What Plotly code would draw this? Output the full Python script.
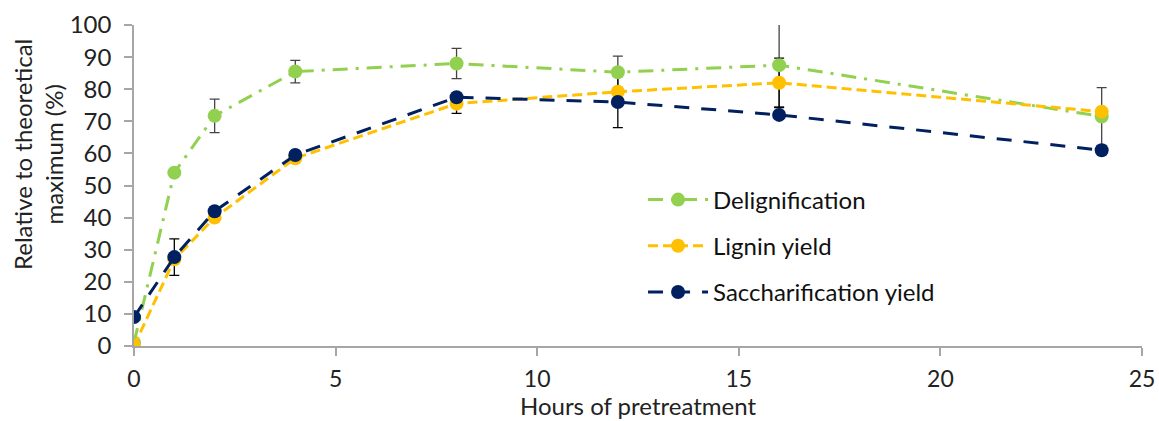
import plotly.graph_objects as go

hours = [0, 1, 2, 4, 8, 12, 16, 24]
delignification = [1, 54, 71.7, 85.5, 88, 85.3, 87.5, 71.5]
lignin_yield = [0, 27, 40, 58.5, 75.5, 79.2, 82, 73]
sacch_yield = [9, 27.7, 42, 59.5, 77.5, 76, 72, 61]

# error bars (only where shown in the reference)
delig_err_x = [2, 4, 8, 12, 16, 24]
delig_err_y = [71.7, 85.5, 88, 85.3, 87.5, 71.5]
delig_err = [5.2, 3.5, 4.7, 5, 13, 9]
lignin_err_x = [8, 16]
lignin_err_y = [75.5, 82]
lignin_err = [3, 7.7]
sacch_err_x = [1, 12]
sacch_err_y = [27.7, 76]
sacch_err = [5.7, 8]

GREEN = "#92d050"
YELLOW = "#ffc000"
NAVY = "#002060"
FONT = "Lato"
FS = 24

fig = go.Figure()

def err_trace(x, y, e, color="black"):
    fig.add_trace(go.Scatter(
        x=x, y=y, mode="markers", showlegend=False, hoverinfo="skip",
        marker=dict(size=1, opacity=0),
        error_y=dict(type="data", array=e, visible=True, color=color,
                     thickness=1.3, width=5),
    ))

err_trace(delig_err_x, delig_err_y, delig_err, "#444444")
err_trace(lignin_err_x, lignin_err_y, lignin_err)
err_trace(sacch_err_x, sacch_err_y, sacch_err)

fig.add_trace(go.Scatter(
    x=hours, y=delignification, name="Delignification", mode="lines+markers",
    legendgroup="a",
    line=dict(color=GREEN, width=3, dash="15px,8px,3px,8px"),
    marker=dict(color=GREEN, size=14),
))
fig.add_trace(go.Scatter(
    x=hours, y=lignin_yield, name="Lignin yield", mode="lines+markers",
    legendgroup="b",
    line=dict(color=YELLOW, width=3, dash="10px,5px"),
    marker=dict(color=YELLOW, size=14),
))
fig.add_trace(go.Scatter(
    x=hours, y=sacch_yield, name="Saccharification yield", mode="lines+markers",
    legendgroup="c",
    line=dict(color=NAVY, width=3, dash="15px,12px"),
    marker=dict(color=NAVY, size=14),
))

fig.update_layout(
    width=1159, height=421,
    margin=dict(l=134, r=17, t=25, b=75),
    plot_bgcolor="white", paper_bgcolor="white",
    font=dict(family=FONT, size=FS, color="#222222"),
    legend=dict(x=0.505, y=0.525, xanchor="left", yanchor="top",
                bgcolor="rgba(0,0,0,0)", font=dict(size=FS, color="#111111"),
                traceorder="grouped", tracegroupgap=12, itemwidth=60),
    xaxis=dict(
        range=[0, 25], tickvals=[0, 5, 10, 15, 20, 25],
        showgrid=False, zeroline=False, showline=True, automargin=False,
        linecolor="#a6a6a6", linewidth=1.5,
        ticks="outside", ticklen=8, tickcolor="#a6a6a6", tickwidth=1.5,
        ticklabelstandoff=4, tickfont=dict(size=23),
    ),
    yaxis=dict(
        range=[0, 100], tickvals=list(range(0, 101, 10)),
        showgrid=False, zeroline=False, showline=True, automargin=False,
        linecolor="#a6a6a6", linewidth=1.5,
        ticks="outside", ticklen=8, tickcolor="#a6a6a6", tickwidth=1.5,
        ticklabelstandoff=8,
    ),
    annotations=[
        dict(text="Hours of pretreatment", xref="paper", yref="paper",
             x=0.5, y=(346 - 421) / 321, xanchor="center", yanchor="bottom",
             borderpad=0, showarrow=False,
             font=dict(size=FS, color="#222222")),
        dict(text="Relative to theoretical<br>maximum (%)", xref="paper",
             yref="paper", x=(38 - 134) / 1008, y=(346 - 155) / 321,
             xanchor="center", yanchor="middle", textangle=-90,
             showarrow=False, font=dict(size=FS, color="#222222")),
    ],
)

fig.write_html("out.html")
